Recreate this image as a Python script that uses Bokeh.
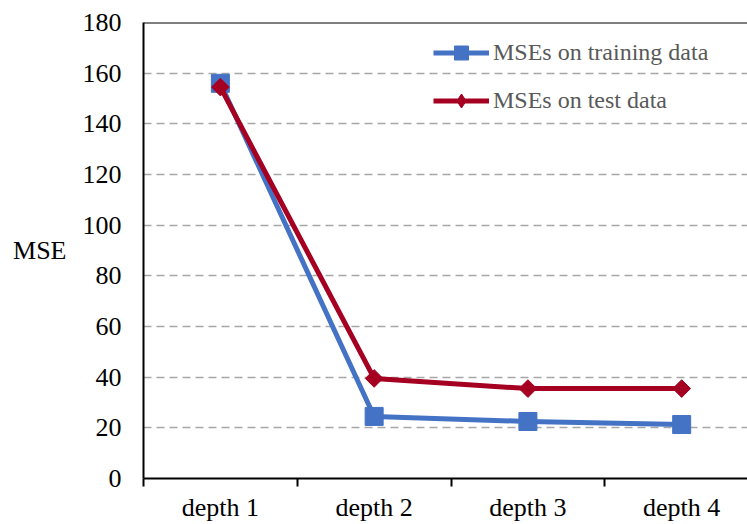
from bokeh.plotting import figure
from bokeh.models import Range1d, FixedTicker, Span, Legend, LegendItem
from bokeh.embed import file_html
from bokeh.resources import INLINE
import math

categories = ["depth 1", "depth 2", "depth 3", "depth 4"]
train_mse = [156.0, 24.5, 22.5, 21.3]
test_mse = [154.5, 39.5, 35.5, 35.5]
y_ticks = [0, 20, 40, 60, 80, 100, 120, 140, 160, 180]

BLUE = "#4472C4"
RED = "#A50021"
FONT = "Liberation Serif"

x = [i + 1 for i in range(len(categories))]

p = figure(width=747, height=524, output_backend="svg", toolbar_location=None,
           x_range=Range1d(0.5, 4.428), y_range=Range1d(0, 180),
           min_border_left=143, min_border_top=22, min_border_right=0,
           min_border_bottom=46)
p.outline_line_color = None
p.background_fill_color = "white"
p.border_fill_color = "white"

# grid
p.xgrid.visible = False
p.ygrid.ticker = FixedTicker(ticks=y_ticks)
p.ygrid.grid_line_color = "#A6A6A6"
p.ygrid.grid_line_width = 1.5
p.ygrid.grid_line_dash = "8 5"

# top border line
p.add_layout(Span(location=180, dimension="width", line_color="black", line_width=2))

# x axis
xa = p.xaxis[0]
xa.ticker = FixedTicker(ticks=x, minor_ticks=[v - 0.5 for v in x] + [x[-1] + 0.5])
xa.major_label_overrides = {xi: c for xi, c in zip(x, categories)}
xa.major_tick_out = 0
xa.major_tick_in = 0
xa.minor_tick_out = 8
xa.minor_tick_in = 0
xa.minor_tick_line_color = "black"
xa.minor_tick_line_width = 2
xa.axis_line_color = "black"
xa.axis_line_width = 2
xa.major_label_text_font = FONT
xa.major_label_text_font_size = "26px"
xa.major_label_text_color = "black"
xa.major_label_standoff = 6

# y axis
ya = p.yaxis[0]
ya.ticker = FixedTicker(ticks=y_ticks)
ya.major_tick_out = 0
ya.major_tick_in = 0
ya.minor_tick_line_color = None
ya.axis_line_color = "black"
ya.axis_line_width = 2
ya.major_label_text_font = FONT
ya.major_label_text_font_size = "26px"
ya.major_label_text_color = "black"
ya.major_label_standoff = 22
ya.axis_label = "MSE"
ya.axis_label_orientation = "horizontal"
ya.axis_label_text_font = FONT
ya.axis_label_text_font_size = "26px"
ya.axis_label_text_font_style = "normal"
ya.axis_label_text_color = "black"
ya.axis_label_standoff = 13

# series
l1 = p.line(x, train_mse, line_color=BLUE, line_width=5, line_join="round")
m1 = p.scatter(x, train_mse, marker="square", size=18, fill_color=BLUE, line_color=BLUE)
l2 = p.line(x, test_mse, line_color=RED, line_width=5, line_join="round")
# legend glyph (legend ignores marker angle); hidden beneath the rotated squares
m2_leg = p.scatter(x[:1], test_mse[:1], marker="diamond", size=13, fill_color=RED, line_color=RED)
m2 = p.scatter(x, test_mse, marker="square", size=12.5, angle=math.pi / 4,
               fill_color=RED, line_color=RED)

legend = Legend(items=[LegendItem(label="MSEs on training data", renderers=[l1, m1]),
                       LegendItem(label="MSEs on test data", renderers=[l2, m2_leg])],
                location=(290, 360))
legend.border_line_color = None
legend.background_fill_alpha = 0
legend.padding = 0
legend.margin = 0
legend.spacing = 13
legend.glyph_width = 56
legend.glyph_height = 35
legend.label_standoff = 4
legend.label_text_font = FONT
legend.label_text_font_size = "24px"
legend.label_text_color = "#595959"
p.add_layout(legend)

open("out.html", "w").write(file_html(p, INLINE))
